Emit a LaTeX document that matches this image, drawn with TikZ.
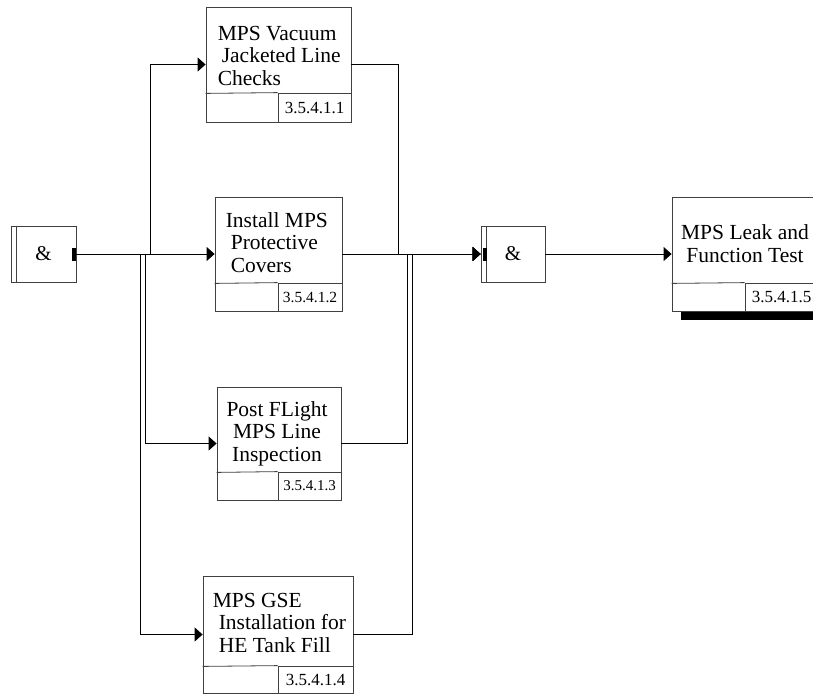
\documentclass[tikz,border=0pt]{standalone}
\usepackage{fontspec}
\setmainfont{Liberation Serif}
\usetikzlibrary{arrows.meta, positioning, calc, shadows}

\tikzset{
  taskbox/.style={rectangle, draw=black!75, fill=white, line width=0.8pt, inner sep=0pt},
  tasktext/.style={inner sep=0pt, font=\fontsize{21.5}{22.5}\selectfont},
  idcell/.style={rectangle, draw=black!75, line width=0.8pt, inner sep=0pt,
                 anchor=south east, font=\fontsize{17}{17}\selectfont},
  joinbox/.style={rectangle, draw=black!75, fill=white, line width=0.8pt, inner sep=0pt,
                  minimum height=56pt, font=\fontsize{21}{22}\selectfont},
  cellline/.style={draw=black!75, line width=0.8pt},
  flow/.style={draw=black, line width=0.8pt, -{Triangle[length=8pt,width=14pt]}}
}

\begin{document}
\begin{tikzpicture}[x=1pt, y=-1pt]
  \useasboundingbox (0,0) rectangle (813,694);

  % junctions
  \node[joinbox, minimum width=65pt] (j1) at (43.5,254) {\&};
  \draw[cellline] ([xshift=6pt]j1.north west) -- ([xshift=6pt]j1.south west);
  \fill ([xshift=-4pt,yshift=6.5pt]j1.east) rectangle ([yshift=-6.5pt]j1.east);

  \node[joinbox, minimum width=64pt] (j2) at (513,254) {\&};
  \draw[cellline] ([xshift=6pt]j2.north west) -- ([xshift=6pt]j2.south west);
  \fill ([xshift=2pt,yshift=6.5pt]j2.west) rectangle ([xshift=6pt,yshift=-6.5pt]j2.west);

  % tasks
  \node[taskbox, minimum width=145pt, minimum height=115pt] (b1) at (278.5,64.5) {};
  \node[tasktext, align=left, anchor=west] (b1t) at ($(b1.north west)+(12,49)$)
       {MPS Vacuum\\\hspace*{4pt}Jacketed Line\\Checks};
  \node[idcell, minimum width=73pt, minimum height=29pt] (b1n) at (b1.south east) {3.5.4.1.1};
  \draw[cellline] ([yshift=29pt]b1.south west) -- (b1n.north west);

  \node[taskbox, minimum width=127pt, minimum height=114pt] (b2) at (278.5,254) {};
  \node[tasktext, align=left, anchor=west] (b2t) at ($(b2.north west)+(11,46)$)
       {Install MPS\\\hspace*{5pt}Protective\\\hspace*{5pt}Covers};
  \node[idcell, minimum width=64pt, minimum height=28pt, font=\fontsize{15.5}{16}\selectfont]
       (b2n) at (b2.south east) {3.5.4.1.2};
  \draw[cellline] ([yshift=28pt]b2.south west) -- (b2n.north west);

  \node[taskbox, minimum width=124pt, minimum height=113pt] (b3) at (279,443.5) {};
  \node[tasktext, align=center] (b3t) at ($(b3.north)+(-2,47)$)
       {Post FLight\\MPS Line\\Inspection};
  \node[idcell, minimum width=63pt, minimum height=28pt, font=\fontsize{15}{16}\selectfont]
       (b3n) at (b3.south east) {3.5.4.1.3};
  \draw[cellline] ([yshift=28pt]b3.south west) -- (b3n.north west);

  \node[taskbox, minimum width=150pt, minimum height=117pt] (b4) at (278,634.5) {};
  \node[tasktext, align=left, anchor=west] (b4t) at ($(b4.north west)+(10,47)$)
       {MPS GSE\\\hspace*{6pt}Installation for\\\hspace*{6pt}HE Tank Fill};
  \node[idcell, minimum width=75pt, minimum height=27pt] (b4n) at (b4.south east) {3.5.4.1.4};
  \draw[cellline] ([yshift=27pt]b4.south west) -- (b4n.north west);

  \node[taskbox, minimum width=146pt, minimum height=114pt,
        drop shadow={shadow xshift=9pt, shadow yshift=-9pt, fill=black, opacity=1}] (b5) at (745,254) {};
  \node[tasktext, align=center] (b5t) at ($(b5.north)+(0,47)$)
       {MPS Leak and\\Function Test};
  \node[idcell, minimum width=73pt, minimum height=28pt] (b5n) at (b5.south east) {3.5.4.1.5};
  \draw[cellline] ([yshift=28pt]b5.south west) -- (b5n.north west);

  % connectors in
  \draw[flow] (j1.east) -- (b2.west);
  \draw[flow] (j1.east) -- ++(74,0) |- (b1.west);
  \draw[flow] (j1.east) -- ++(69,0) |- (b3.west);
  \draw[flow] (j1.east) -- ++(64,0) |- (b4.west);

  % connectors out
  \draw[flow] (b1.east) -- ++(47,0) |- (j2.west);
  \draw[flow] (b2.east) -- (j2.west);
  \draw[flow] (b3.east) -- ++(66,0) |- (j2.west);
  \draw[flow] (b4.east) -- ++(59,0) |- (j2.west);
  \draw[flow] (j2.east) -- (b5.west);
\end{tikzpicture}
\end{document}
